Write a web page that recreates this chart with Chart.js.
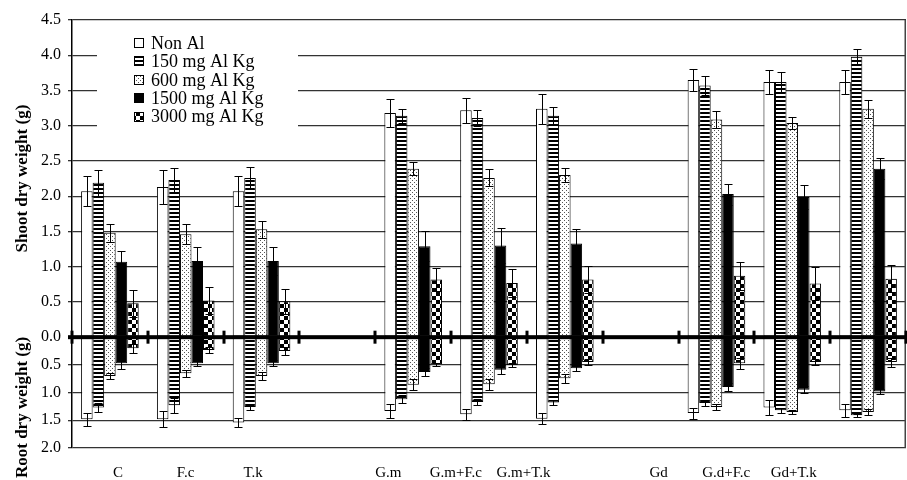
<!DOCTYPE html>
<html><head><meta charset="utf-8">
<script src="https://cdn.jsdelivr.net/npm/chart.js@4.4.1/dist/chart.umd.min.js"></script>
<style>html,body{margin:0;padding:0;background:#fff;}canvas{display:block;}</style>
</head><body>
<canvas id="c" width="907" height="480"></canvas>
<script>
// ---- data ----
const categories = ['C','F.c','T.k','','G.m','G.m+F.c','G.m+T.k','','Gd','G.d+F.c','Gd+T.k'];
const labelRow = ['C','F.c','T.k','','G.m','G.m+F.c','G.m+T.k','','Gd','G.d+F.c','Gd+T.k',''];
const seriesNames = ['Non Al','150 mg Al Kg','600 mg Al Kg','1500 mg Al Kg','3000 mg Al Kg'];
const shootTickValues = [0,0.5,1,1.5,2,2.5,3,3.5,4,4.5];
const shootTickLabels = ['0.0','0.5','1.0','1.5','2.0','2.5','3.0','3.5','4.0','4.5'];
const rootTickValues = [0,0.5,1,1.5,2];
const rootTickLabels = ['','0.5','1.0','1.5','2.0'];

const shootNonAl = [2.07,2.13,2.07,null,3.18,3.22,3.24,null,3.65,3.62,3.62];
const shoot150   = [2.19,2.23,2.26,null,3.14,3.11,3.14,null,3.57,3.62,3.98];
const shoot600   = [1.48,1.46,1.53,null,2.39,2.26,2.30,null,3.09,3.04,3.24];
const shoot1500  = [1.07,1.08,1.08,null,1.29,1.30,1.33,null,2.03,1.99,2.39];
const shoot3000  = [0.48,0.52,0.51,null,0.82,0.77,0.82,null,0.87,0.76,0.83];

const shootErrNonAl = [0.21,0.24,0.21,null,0.20,0.18,0.21,null,0.16,0.17,0.17];
const shootErr150   = [0.18,0.17,0.16,null,0.10,0.12,0.12,null,0.13,0.14,0.11];
const shootErr600   = [0.13,0.14,0.12,null,0.09,0.12,0.10,null,0.12,0.09,0.13];
const shootErr1500  = [0.15,0.20,0.20,null,0.21,0.25,0.20,null,0.15,0.17,0.15];
const shootErr3000  = [0.19,0.19,0.18,null,0.16,0.20,0.19,null,0.20,0.23,0.19];

const rootNonAl = [1.48,1.48,1.54,null,1.33,1.39,1.47,null,1.37,1.27,1.32];
const root150   = [1.27,1.23,1.26,null,1.12,1.17,1.18,null,1.19,1.32,1.41];
const root600   = [0.70,0.65,0.70,null,0.86,0.85,0.74,null,1.26,1.35,1.35];
const root1500  = [0.47,0.47,0.47,null,0.63,0.59,0.56,null,0.90,0.95,0.98];
const root3000  = [0.20,0.23,0.25,null,0.49,0.50,0.45,null,0.47,0.45,0.45];

const rootErrNonAl = [0.12,0.14,0.08,null,0.12,0.10,0.10,null,0.10,0.14,0.12];
const rootErr150   = [0.08,0.13,0.06,null,0.07,0.05,0.04,null,0.06,0.05,0.03];
const rootErr600   = [0.06,0.06,0.08,null,0.10,0.10,0.08,null,0.05,0.03,0.05];
const rootErr1500  = [0.10,0.05,0.05,null,0.07,0.08,0.05,null,0.08,0.06,0.05];
const rootErr3000  = [0.08,0.06,0.07,null,0.03,0.03,0.06,null,0.10,0.05,0.08];

const shootValues = [shootNonAl, shoot150, shoot600, shoot1500, shoot3000];
const shootErrors = [shootErrNonAl, shootErr150, shootErr600, shootErr1500, shootErr3000];
const rootValues = [rootNonAl, root150, root600, root1500, root3000];
const rootErrors = [rootErrNonAl, rootErr150, rootErr600, rootErr1500, rootErr3000];

// ---- patterns ----
function makeFill(kind) {
  if (kind === 'white') return '#ffffff';
  if (kind === 'black') return '#000000';
  const c = document.createElement('canvas');
  const g = c.getContext('2d');
  if (kind === 'stripes') {
    c.width = 4; c.height = 4;
    g.fillStyle = '#fff'; g.fillRect(0,0,4,4);
    g.fillStyle = '#000'; g.fillRect(0,0,4,2);
  } else if (kind === 'dots') {
    c.width = 4; c.height = 4;
    g.fillStyle = '#fff'; g.fillRect(0,0,4,4);
    g.fillStyle = '#555'; g.fillRect(0,0,1,1); g.fillRect(2,2,1,1);
  } else if (kind === 'checker') {
    c.width = 8; c.height = 8;
    g.fillStyle = '#fff'; g.fillRect(0,0,8,8);
    g.fillStyle = '#000'; g.fillRect(0,0,4,4); g.fillRect(4,4,4,4);
  }
  return g.createPattern(c, 'repeat');
}
const fills = ['white','stripes','dots','black','checker'].map(makeFill);

const datasets = [];
for (let s = 0; s < 5; s++) {
  datasets.push({label: seriesNames[s], data: shootValues[s], errors: shootErrors[s], yAxisID: 'yS', stack: 'g'+s,
    backgroundColor: fills[s], borderColor: '#000', borderWidth: 1, borderSkipped: false, isShoot: true});
}
for (let s = 0; s < 5; s++) {
  datasets.push({label: seriesNames[s] + ' (root)', data: rootValues[s], errors: rootErrors[s], yAxisID: 'yR', stack: 'g'+s,
    backgroundColor: fills[s], borderColor: '#000', borderWidth: 1, borderSkipped: false, isShoot: false});
}

const errorBars = {
  id: 'errorBars',
  afterDatasetsDraw(chart) {
    const ctx = chart.ctx;
    ctx.save();
    ctx.strokeStyle = '#000'; ctx.lineWidth = 1;
    chart.data.datasets.forEach((ds, i) => {
      const meta = chart.getDatasetMeta(i);
      const scale = chart.scales[ds.yAxisID];
      ds.data.forEach((v, j) => {
        const e = ds.errors[j];
        if (v == null || e == null) return;
        const el = meta.data[j];
        const x = Math.round(el.x) + 0.5;
        const y1 = Math.round(scale.getPixelForValue(v + e)) + 0.5;
        const y2 = Math.round(scale.getPixelForValue(Math.max(0, v - e))) + 0.5;
        ctx.beginPath();
        ctx.moveTo(x, y1); ctx.lineTo(x, y2);
        ctx.moveTo(x - 4, y1); ctx.lineTo(x + 4, y1);
        ctx.moveTo(x - 4, y2); ctx.lineTo(x + 4, y2);
        ctx.stroke();
      });
    });
    ctx.restore();
  }
};

const overlay = {
  id: 'overlay',
  afterDraw(chart) {
    const ctx = chart.ctx;
    const a = chart.chartArea;
    const xs = chart.scales.x;
    ctx.save();
    // right frame
    ctx.strokeStyle = '#444'; ctx.lineWidth = 1.5;
    ctx.beginPath(); ctx.moveTo(a.right - 0.75, a.top); ctx.lineTo(a.right - 0.75, a.bottom); ctx.stroke();
    // zero line with category boundary marks
    const y0 = chart.scales.yS.getPixelForValue(0);
    ctx.fillStyle = '#000';
    ctx.fillRect(a.left - 4, y0 - 2, a.right - a.left + 4, 4);
    for (let i = 0; i <= categories.length; i++) {
      const x = xs.getPixelForValue(i - 0.5);
      ctx.fillRect(Math.round(x) - 1.5, y0 - 6.5, 3, 13);
    }
    // legend
    const lx = a.left + 25, ly = a.top + 10;
    ctx.fillStyle = '#fff';
    ctx.fillRect(lx, ly, 201, 112);
    ctx.font = '18px "Liberation Serif", "Times New Roman", serif';
    ctx.textBaseline = 'middle';
    chart.data.datasets.filter(d => d.isShoot).forEach((d, k) => {
      const cy = a.top + 23 + k * 18.4;
      const bx = a.left + 62;
      ctx.fillStyle = d.backgroundColor;
      ctx.fillRect(bx, Math.round(cy) - 5, 10, 10);
      ctx.strokeStyle = '#000'; ctx.lineWidth = 1;
      ctx.strokeRect(bx + 0.5, Math.round(cy) - 4.5, 9, 9);
      ctx.fillStyle = '#000';
      ctx.fillText(d.label, bx + 17, cy + 1);
    });
    ctx.restore();
  }
};

Chart.defaults.font.family = '"Liberation Serif", "Times New Roman", serif';
Chart.defaults.color = '#000';

function labelFor(values, labels, v) {
  const k = values.findIndex(t => Math.abs(t - v) < 1e-6);
  return k >= 0 ? labels[k] : '';
}

new Chart(document.getElementById('c'), {
  type: 'bar',
  data: {labels: categories, datasets},
  options: {
    responsive: false,
    animation: false,
    layout: {padding: {top: 20, right: 1, left: 0, bottom: 0}},
    categoryPercentage: 0.76,
    barPercentage: 1.0,
    plugins: {legend: {display: false}, tooltip: {enabled: false}},
    scales: {
      x: {type: 'category', display: false},
      xLab: {type: 'linear', position: 'bottom', min: -0.68, max: 11.66, offset: false,
        grid: {display: false, drawTicks: false, offset: false}, border: {display: false},
        afterBuildTicks: (ax) => { ax.ticks = labelRow.map((l, i) => ({value: i})); },
        ticks: {font: {size: 15}, padding: 16, maxRotation: 0, autoSkip: false,
          callback: (v) => labelRow[Math.round(v)] || ''},
        afterFit: (ax) => { ax.height = 32; }},
      yS: {type: 'linear', position: 'left', stack: 'v', stackWeight: 317.7, weight: 2, stacked: false,
        min: 0, max: 4.5,
        afterBuildTicks: (ax) => { ax.ticks = shootTickValues.map(v => ({value: v})); },
        ticks: {autoSkip: false, font: {size: 16}, padding: 7, callback: (v) => labelFor(shootTickValues, shootTickLabels, v)},
        grid: {color: '#333', lineWidth: 1.3, tickLength: 4},
        border: {display: true, color: '#000', width: 1.5},
        title: {display: true, text: 'Shoot dry weight (g)', font: {size: 17, weight: 'bold'}, padding: {top: 12, bottom: 0}},
        afterFit: (ax) => { ax.width = 72; }},
      yR: {type: 'linear', position: 'left', stack: 'v', stackWeight: 111, weight: 1, stacked: false,
        min: 0, max: 2, reverse: true,
        afterBuildTicks: (ax) => { ax.ticks = rootTickValues.map(v => ({value: v})); },
        ticks: {autoSkip: false, font: {size: 16}, padding: 7, callback: (v) => labelFor(rootTickValues, rootTickLabels, v)},
        grid: {color: '#333', lineWidth: 1.3, tickLength: 4},
        border: {display: true, color: '#000', width: 1.5},
        title: {display: true, text: 'Root dry weight (g)       ', font: {size: 17, weight: 'bold'}, padding: {top: 12, bottom: 0}},
        afterFit: (ax) => { ax.width = 72; }}
    }
  },
  plugins: [errorBars, overlay]
});
</script>
</body></html>
